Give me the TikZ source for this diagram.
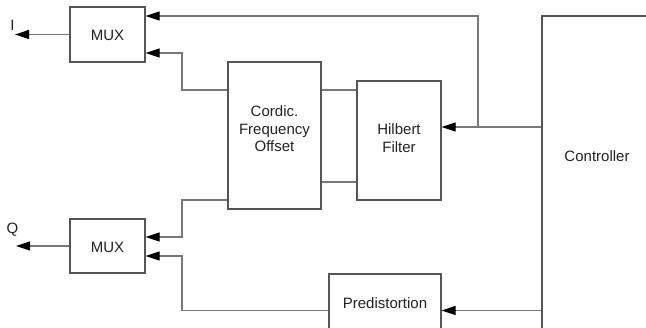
\documentclass[tikz,border=0pt]{standalone}
\usepackage{fontspec}
\setmainfont{Liberation Sans}
\usetikzlibrary{arrows.meta}
\definecolor{boxc}{HTML}{555555}
\definecolor{linec}{HTML}{777777}
\definecolor{txtc}{HTML}{222222}
\begin{document}
\begin{tikzpicture}[x=1pt,y=-1pt,
  blk/.style={draw=boxc,line width=1.2pt,inner sep=0pt,fill=white},
  lbl/.style={text=txtc,font=\fontsize{15}{17.5}\selectfont,align=center,inner sep=0pt},
  conn/.style={draw=linec,line width=1.2pt},
  arr/.style={-{Triangle[length=14pt,width=9pt,color=black]}}]
\useasboundingbox (0,0) rectangle (646,328);
% blocks
\node[blk,minimum width=75pt,minimum height=55pt] (mux1) at (107.5,34.5) {};
\node[lbl] (mux1t) at (107.5,35) {MUX};
\node[blk,minimum width=75pt,minimum height=54pt] (mux2) at (107.5,246) {};
\node[lbl] (mux2t) at (107.5,247) {MUX};
\node[blk,minimum width=93pt,minimum height=147pt] (cordic) at (274.5,135.5) {};
\node[lbl] (cordict) at (274.5,129) {Cordic.\\Frequency\\Offset};
\node[blk,minimum width=84pt,minimum height=119pt] (hilbert) at (399,140.5) {};
\node[lbl] (hilbertt) at (399,138) {Hilbert\\Filter};
\node[blk,minimum width=112pt,minimum height=58pt] (pred) at (385,303) {};
\node[lbl] (predt) at (385,303) {Predistortion};
\node[blk,minimum width=110pt,minimum height=324pt] (ctrl) at (597,178) {};
\node[lbl] (ctrlt) at (597,156) {Controller};
\node[lbl] (Il) at (12.5,25) {I};
\node[lbl] (Ql) at (12.5,230) {Q};
% coordinates
\coordinate (tI) at (15,34.5);
\coordinate (tQ) at (16,246);
\coordinate (jT) at (478,127);
\coordinate (cT) at (478,16);
\coordinate (b1) at (182,90);
\coordinate (b2) at (182,53);
\coordinate (b3) at (182,200);
\coordinate (b4) at (182,237);
\coordinate (b5) at (182,310.5);
\coordinate (b6) at (182,256);
\coordinate (h1) at (339,90);
\coordinate (h2) at (339,182);
% connectors
\draw[conn,arr] (mux1.west) -- (tI);
\draw[conn,arr] (mux2.west) -- (tQ);
\draw[conn,arr] (ctrl.west |- jT) -- (hilbert.east |- jT);
\draw[conn,arr] (jT) -- (cT) -- (mux1.east |- cT);
\draw[conn,arr] (cordic.west |- b1) -- (b1) -- (b2) -- (mux1.east |- b2);
\draw[conn] (cordic.east |- h1) -- (hilbert.west |- h1);
\draw[conn] (cordic.east |- h2) -- (hilbert.west |- h2);
\draw[conn,arr] (cordic.west |- b3) -- (b3) -- (b4) -- (mux2.east |- b4);
\draw[conn,arr] (pred.west |- b5) -- (b5) -- (b6) -- (mux2.east |- b6);
\draw[conn,arr] (ctrl.west |- b5) -- (pred.east |- b5);
\end{tikzpicture}
\end{document}
